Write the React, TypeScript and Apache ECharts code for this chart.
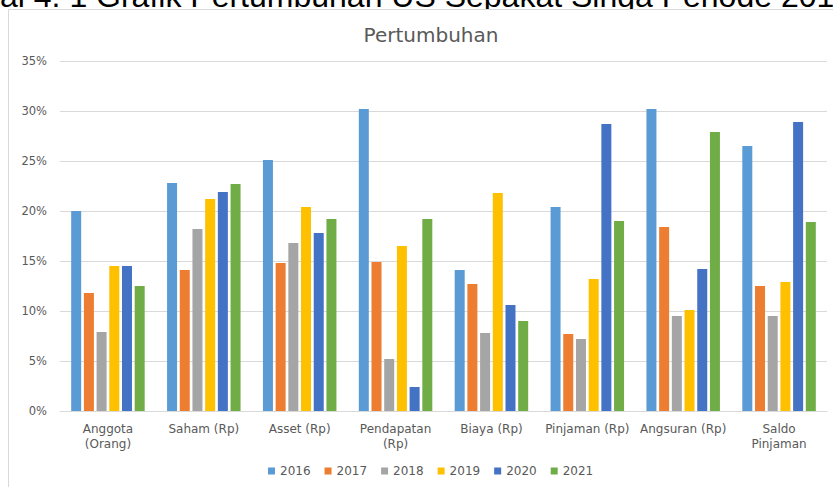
import React, { useEffect, useRef } from "react";
import * as echarts from "echarts";

const categories = [
  "Anggota\n(Orang)",
  "Saham (Rp)",
  "Asset (Rp)",
  "Pendapatan\n(Rp)",
  "Biaya (Rp)",
  "Pinjaman (Rp)",
  "Angsuran (Rp)",
  "Saldo\nPinjaman",
];

const years = ["2016", "2017", "2018", "2019", "2020", "2021"];

const v2016 = [20.0, 22.8, 25.1, 30.2, 14.1, 20.4, 30.2, 26.5];
const v2017 = [11.8, 14.1, 14.8, 14.9, 12.7, 7.7, 18.4, 12.5];
const v2018 = [7.9, 18.2, 16.8, 5.2, 7.8, 7.2, 9.5, 9.5];
const v2019 = [14.5, 21.2, 20.4, 16.5, 21.8, 13.2, 10.1, 12.9];
const v2020 = [14.5, 21.9, 17.8, 2.4, 10.6, 28.7, 14.2, 28.9];
const v2021 = [12.5, 22.7, 19.2, 19.2, 9.0, 19.0, 27.9, 18.9];

const seriesValues = [v2016, v2017, v2018, v2019, v2020, v2021];
const colors = ["#5B9BD5", "#ED7D31", "#A5A5A5", "#FFC000", "#4472C4", "#70AD47"];

const yTicks = { min: 0, max: 35, interval: 5 };

const caption = "al 4. 1 Grafik Pertumbuhan US Sepakat Singa Periode 201";
const chartTitle = "Pertumbuhan";

const FONT = "DejaVu Sans";

export default function App() {
  const ref = useRef<HTMLDivElement>(null);
  useEffect(() => {
    if (!ref.current) return;
    const chart = echarts.init(ref.current, undefined, { renderer: "svg" });
    chart.setOption({
      animation: false,
      backgroundColor: "#ffffff",
      color: colors,
      title: {
        text: chartTitle,
        left: 426,
        top: 20,
        textAlign: "center",
        textStyle: { fontFamily: FONT, fontSize: 20, fontWeight: "normal", color: "#595959" },
      },
      graphic: [
        {
          type: "text",
          x: 0,
          y: -4,
          z: -2,
          style: {
            text: caption,
            fontFamily: "Liberation Sans",
            fontSize: 32,
            fill: "#000000",
            textVerticalAlign: "middle",
            verticalAlign: "middle",
          },
        },
        {
          type: "rect",
          z: -1,
          shape: { x: 8.5, y: 9.5, width: 900, height: 600 },
          style: { fill: "#ffffff", stroke: "#d9d9d9", lineWidth: 1 },
        },
      ],
      legend: {
        data: years,
        left: 263,
        top: 460,
        icon: "rect",
        itemWidth: 7,
        itemHeight: 7,
        itemGap: 14,
        textStyle: { fontFamily: FONT, fontSize: 12, color: "#595959" },
      },
      grid: { left: 60, right: 6, top: 61, bottom: 76, containLabel: false },
      xAxis: {
        type: "category",
        data: categories,
        axisLine: { show: true, lineStyle: { color: "#d9d9d9" } },
        axisTick: { show: false },
        axisLabel: {
          interval: 0,
          hideOverlap: false,
          margin: 10,
          fontFamily: FONT,
          fontSize: 12,
          lineHeight: 15,
          color: "#595959",
        },
      },
      yAxis: {
        type: "value",
        min: yTicks.min,
        max: yTicks.max,
        interval: yTicks.interval,
        axisLine: { show: false },
        axisTick: { show: false },
        splitLine: { lineStyle: { color: "#d9d9d9" } },
        axisLabel: {
          formatter: "{value}%",
          margin: 13,
          fontFamily: FONT,
          fontSize: 11.5,
          color: "#595959",
        },
      },
      series: years.map((y, i) => ({
        name: y,
        type: "bar",
        data: seriesValues[i],
        barWidth: 10,
        barGap: "27%",
        itemStyle: { color: colors[i] },
      })),
    });
    return () => chart.dispose();
  }, []);
  return <div ref={ref} style={{ width: 833, height: 487, position: "fixed", left: 0, top: 0 }} />;
}
